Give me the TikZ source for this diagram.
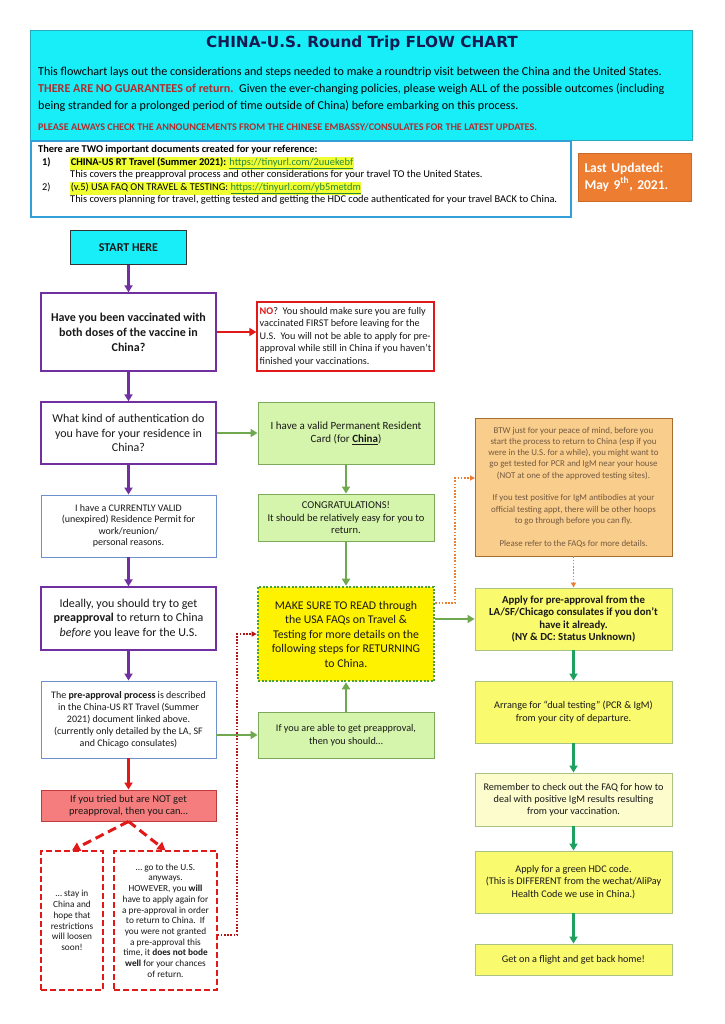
\documentclass[tikz,border=0pt]{standalone}
\usepackage{fontspec}
\setmainfont{Carlito}
\newfontfamily\titlefont{DejaVu Sans}
\usepackage{xcolor}
\usetikzlibrary{arrows.meta}

\definecolor{headcyan}{RGB}{24,238,248}
\definecolor{headline}{RGB}{40,170,190}
\definecolor{refblue}{RGB}{50,160,215}
\definecolor{updorange}{RGB}{237,125,49}
\definecolor{qpurple}{RGB}{112,48,160}
\definecolor{nored}{RGB}{225,25,25}
\definecolor{warnred}{RGB}{175,45,45}
\definecolor{okgreen}{RGB}{112,168,80}
\definecolor{okfill}{RGB}{214,245,172}
\definecolor{okline}{RGB}{125,170,90}
\definecolor{permitblue}{RGB}{110,145,205}
\definecolor{btwfill}{RGB}{249,205,140}
\definecolor{btwline}{RGB}{165,110,45}
\definecolor{btwtext}{RGB}{115,90,65}
\definecolor{stepyellow}{RGB}{250,250,110}
\definecolor{steppale}{RGB}{252,252,205}
\definecolor{stepline}{RGB}{170,195,130}
\definecolor{steparrow}{RGB}{30,160,95}
\definecolor{failfill}{RGB}{245,125,125}
\definecolor{failline}{RGB}{190,60,60}
\definecolor{titlenavy}{RGB}{22,26,82}
\definecolor{urlgreen}{RGB}{40,135,60}
\definecolor{hilite}{RGB}{240,255,50}
\definecolor{makeline}{RGB}{75,160,50}

\newcommand{\fsz}[2]{\fontsize{#1}{#2}\selectfont}
\newcommand{\hl}[1]{{\setlength{\fboxsep}{0.6pt}\colorbox{hilite}{#1}}}

\tikzset{
  flowbox/.style={rectangle, align=center, inner sep=2pt, text=black!90},
  qbox/.style={flowbox, draw=qpurple, line width=1.3pt, fill=white},
  nobox/.style={flowbox, draw=nored, line width=1.3pt, fill=white},
  okbox/.style={flowbox, draw=okline, line width=0.9pt, fill=okfill},
  infobox/.style={flowbox, draw=permitblue, line width=0.9pt, fill=white},
  stepbox/.style={flowbox, draw=stepline, line width=0.9pt, fill=stepyellow},
  optbox/.style={flowbox, draw=nored, line width=1.2pt, dash pattern=on 6pt off 3pt, fill=white},
  parrow/.style={draw=qpurple, line width=2.6pt, -{Triangle[length=7pt,width=8pt]}},
  garrow/.style={draw=okgreen, line width=2.4pt, -{Triangle[length=7pt,width=8pt]}},
  sarrow/.style={draw=steparrow, line width=2.4pt, -{Triangle[length=7pt,width=8pt]}},
  rarrow/.style={draw=nored, line width=2.4pt, -{Triangle[length=7pt,width=8pt]}},
  rdash/.style={draw=nored, line width=3pt, dash pattern=on 9pt off 5pt, -{Triangle[length=8pt,width=9pt]}},
  rdot/.style={draw=nored!80!black, line width=1.6pt, dash pattern=on 1.6pt off 1.6pt, -{Triangle[length=5pt,width=5pt]}},
  odot/.style={draw=updorange, line width=1.6pt, dash pattern=on 1.6pt off 1.6pt, -{Triangle[length=5pt,width=5pt]}}
}

\begin{document}
\begin{tikzpicture}[x=1pt, y=-1pt]
\useasboundingbox[fill=white] (0,0) rectangle (724,1024);

% header
\node[rectangle, draw=headline, line width=1pt, fill=headcyan, minimum width=662pt, minimum height=110pt, anchor=north west] (head) at (30,30) {};
\node[font=\titlefont\bfseries\fsz{15.3}{18}, text=titlenavy] (title) at (362,43) {CHINA-U.S. Round Trip FLOW CHART};
\node[anchor=west, align=left, inner sep=0pt, font=\fsz{12.1}{17}] (intro) at (38,89) {This flowchart lays out the considerations and steps needed to make a roundtrip visit between the China and the United States.\\
\textcolor{warnred}{\textbf{THERE ARE NO GUARANTEES of return.}}\ \ Given the ever-changing policies, please weigh ALL of the possible outcomes (including\\
being stranded for a prolonged period of time outside of China) before embarking on this process.};
\node[anchor=west, inner sep=0pt, font=\bfseries\fsz{10.2}{12}, text=warnred] (please) at (38,127) {PLEASE ALWAYS CHECK THE ANNOUNCEMENTS FROM THE CHINESE EMBASSY/CONSULATES FOR THE LATEST UPDATES.};

\node[rectangle, draw=refblue, line width=2.4pt, fill=white, minimum width=540pt, minimum height=76pt, anchor=north west] (refs) at (30,140) {};
\node[anchor=west, align=left, inner sep=0pt, font=\fsz{10.4}{12.5}] (reftext) at (38,175) {\textbf{There are TWO important documents created for your reference:}\\
\hspace*{4pt}\makebox[28pt][l]{\textbf{1)}}\hl{\textbf{CHINA-US RT Travel (Summer 2021):} \textcolor{urlgreen}{\underline{https://tinyurl.com/2uuekebf}}}\\
\hspace*{32pt}This covers the preapproval process and other considerations for your travel TO the United States.\\
\hspace*{4pt}\makebox[28pt][l]{2)}\hl{(v.5) USA FAQ ON TRAVEL \& TESTING: \textcolor{urlgreen}{\underline{https://tinyurl.com/yb5metdm}}}\\
\hspace*{32pt}This covers planning for travel, getting tested and getting the HDC code authenticated for your travel BACK to China.};

\node[rectangle, draw=updorange!85!black, line width=0.6pt, fill=updorange, text=white, font=\bfseries\fsz{13.5}{17}, align=left, text width=100pt, inner sep=6.5pt, minimum height=48pt] (updated) at (634.5,177) {Last Updated:\\May 9\textsuperscript{th}, 2021.};

% left column
\node[flowbox, draw=black!80, line width=1pt, fill=headcyan, minimum width=116pt, minimum height=33pt, font=\bfseries\fsz{12}{15}] (start) at (128.5,247.5) {START HERE};
\node[qbox, minimum width=175pt, minimum height=78pt, font=\bfseries\fsz{12}{15}] (vacc) at (128.5,332) {Have you been vaccinated with\\both doses of the vaccine in\\China?};
\node[qbox, minimum width=175pt, minimum height=62pt, font=\fsz{12}{14.6}] (auth) at (128.5,433) {What kind of authentication do\\you have for your residence in\\China?};
\node[infobox, minimum width=175pt, minimum height=62pt, font=\fsz{10}{11.4}] (permit) at (128.5,526) {I have a CURRENTLY VALID\\(unexpired) Residence Permit for\\work/reunion/\\personal reasons.};
\node[qbox, minimum width=175pt, minimum height=63pt, font=\fsz{12}{14.6}] (ideal) at (128.5,618.5) {Ideally, you should try to get\\\textbf{preapproval} to return to China\\\textit{before} you leave for the U.S.};
\node[infobox, minimum width=175pt, minimum height=77pt, font=\fsz{10}{12}] (preapp) at (128.5,719.5) {The \textbf{pre-approval process} is described\\in the China-US RT Travel (Summer\\2021) document linked above.\\(currently only detailed by the LA, SF\\and Chicago consulates)};
\node[flowbox, draw=failline, line width=0.9pt, fill=failfill, minimum width=175pt, minimum height=31pt, font=\fsz{10.5}{12.2}] (notget) at (128.5,805.5) {If you tried but are NOT get\\preapproval, then you can…};
\node[optbox, minimum width=62pt, minimum height=139pt, font=\fsz{9.3}{10.7}] (stay) at (72,920.5) {… stay in\\China and\\hope that\\restrictions\\will loosen\\soon!};
\node[optbox, minimum width=103pt, minimum height=139pt, font=\fsz{9.3}{10.7}] (gous) at (165.5,920.5) {… go to the U.S.\\anyways.\\HOWEVER, you \textbf{will}\\have to apply again for\\a pre-approval in order\\to return to China.\ \ If\\you were not granted\\a pre-approval this\\time, it \textbf{does not bode}\\\textbf{well} for your chances\\of return.};

% middle column
\node[nobox, minimum width=177pt, minimum height=69pt, align=left, font=\fsz{10.2}{12.5}] (novacc) at (345.5,336.5) {\textcolor{nored}{\textbf{NO}}?\ \ You should make sure you are fully\\vaccinated FIRST before leaving for the\\U.S.\ \ You will not be able to apply for pre-\\approval while still in China if you haven't\\finished your vaccinations.};
\node[okbox, minimum width=176pt, minimum height=62pt, font=\fsz{11}{13.3}] (permres) at (346,433) {I have a valid Permanent Resident\\Card (for \underline{\textbf{China}})};
\node[okbox, minimum width=176pt, minimum height=47pt, font=\fsz{10.5}{12.2}] (congrats) at (346,517.5) {CONGRATULATIONS!\\It should be relatively easy for you to\\return.};
\node[flowbox, draw=makeline, line width=2.6pt, dash pattern=on 2pt off 1.6pt, fill=yellow, minimum width=176pt, minimum height=94pt, font=\fsz{11.8}{14.5}] (makesure) at (346,634) {MAKE SURE TO READ through\\the USA FAQs on Travel \&\\Testing for more details on the\\following steps for RETURNING\\to China.};
\node[okbox, minimum width=176pt, minimum height=46pt, font=\fsz{10.2}{12.6}] (ifable) at (346,735) {If you are able to get preapproval,\\then you should…};

% right column
\node[flowbox, draw=btwline, line width=0.9pt, fill=btwfill, text=btwtext, minimum width=197pt, minimum height=138pt, font=\fsz{8.9}{11.3}] (btw) at (573.5,487) {BTW just for your peace of mind, before you\\start the process to return to China (esp if you\\were in the U.S. for a while), you might want to\\go get tested for PCR and IgM near your house\\(NOT at one of the approved testing sites).\\[11.3pt]If you test positive for IgM antibodies at your\\official testing appt, there will be other hoops\\to go through before you can fly.\\[11.3pt]Please refer to the FAQs for more details.};
\node[stepbox, minimum width=197pt, minimum height=62pt, font=\bfseries\fsz{10.8}{12.3}] (apply) at (573.5,619) {Apply for pre-approval from the\\LA/SF/Chicago consulates if you don't\\have it already.\\(NY \& DC: Status Unknown)};
\node[stepbox, minimum width=197pt, minimum height=62pt, font=\fsz{10.2}{13.3}] (arrange) at (573.5,712) {Arrange for ``dual testing'' (PCR \& IgM)\\from your city of departure.};
\node[stepbox, fill=steppale, minimum width=197pt, minimum height=53pt, font=\fsz{10.2}{12}] (remember) at (573.5,799.5) {Remember to check out the FAQ for how to\\deal with positive IgM results resulting\\from your vaccination.};
\node[stepbox, minimum width=197pt, minimum height=62pt, font=\fsz{10.2}{12.6}] (hdc) at (573.5,882) {Apply for a green HDC code.\\(This is DIFFERENT from the wechat/AliPay\\Health Code we use in China.)};
\node[stepbox, minimum width=197pt, minimum height=31pt, font=\fsz{10.2}{12}] (flight) at (573.5,959.5) {Get on a flight and get back home!};

% connectors
\coordinate (obend) at (455,603);
\coordinate (oin) at (475,478);
\coordinate (rbend) at (237,935);

\draw[parrow] (start) -- (vacc);
\draw[parrow] (vacc) -- (auth);
\draw[parrow] (auth) -- (permit);
\draw[parrow] (permit) -- (ideal);
\draw[parrow] (ideal) -- (preapp);
\draw[rarrow] (vacc.east) -- (vacc.east -| novacc.west);
\draw[rarrow] (preapp) -- (notget);
\draw[rdash] (notget.south) -- (stay.north);
\draw[rdash] (notget.south) -- (gous.north);
\draw[rdot] (gous.east |- rbend) -- (rbend) |- (makesure.west);
\draw[garrow] (auth) -- (permres);
\draw[garrow] (permres) -- (congrats);
\draw[garrow] (congrats) -- (makesure);
\draw[garrow] (preapp.east |- ifable.west) -- (ifable.west);
\draw[garrow] (ifable) -- (makesure);
\draw[garrow] (makesure.east |- apply.west) -- (apply.west);
\draw[odot] (makesure.east |- obend) -- (obend) |- (oin);
\draw[odot] (btw) -- (apply);
\draw[sarrow] (apply) -- (arrange);
\draw[sarrow] (arrange) -- (remember);
\draw[sarrow] (remember) -- (hdc);
\draw[sarrow] (hdc) -- (flight);
\end{tikzpicture}
\end{document}
